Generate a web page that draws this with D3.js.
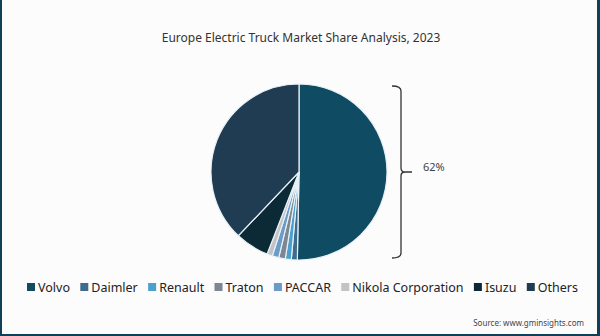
<!DOCTYPE html>
<html>
<head>
<meta charset="utf-8">
<script src="https://cdn.jsdelivr.net/npm/d3@7"></script>
<style>
  body { margin: 0; background: #fff; }
  svg { display: block; font-family: "Noto Sans", "Open Sans", sans-serif; }
</style>
</head>
<body>
<div id="chart"></div>
<script>
/* ===== Data ===== */
const companies = ["Volvo", "Daimler", "Renault", "Traton", "PACCAR", "Nikola Corporation", "Isuzu", "Others"];
const shares = [50.3, 1.1, 1.1, 1.2, 1.2, 1.0, 6.2, 37.9];
const colors = ["#0f4c64", "#3d6d8e", "#4aa0cf", "#7d8791", "#6b9bc9", "#c3c3c3", "#0b2a36", "#1f3c53"];
const calloutLabel = "62%";
const title = "Europe Electric Truck Market Share Analysis, 2023";
const source = "Source: www.gminsights.com";

/* ===== Constants ===== */
const width = 600, height = 336;
const center = {x: 299, y: 172};
const radius = 88;

const svg = d3.select("#chart").append("svg")
              .attr("width", width)
              .attr("height", height);

// background and dark frame
svg.append("rect").attr("width", width).attr("height", height).attr("fill", "#fcfcfc");
svg.append("rect").attr("x", 0).attr("y", 0).attr("width", 2).attr("height", height).attr("fill", "#123f57");
svg.append("rect").attr("x", width - 3).attr("y", 0).attr("width", 3).attr("height", height).attr("fill", "#123f57");
svg.append("rect").attr("x", 0).attr("y", height - 2).attr("width", width).attr("height", 2).attr("fill", "#123f57");

svg.append("text")
   .attr("x", 301)
   .attr("y", 42)
   .attr("text-anchor", "middle")
   .attr("font-size", 12)
   .attr("fill", "#333")
   .text(title);

const data = companies.map((c, i) => ({name: c, value: shares[i], color: colors[i]}));

const pie = d3.pie().value(d => d.value).sort(null);
const arc = d3.arc().innerRadius(0).outerRadius(radius);

svg.append("g")
   .attr("transform", `translate(${center.x},${center.y})`)
   .selectAll("path")
   .data(pie(data))
   .join("path")
   .attr("d", arc)
   .attr("fill", d => d.data.color)
   .attr("stroke", "#e8f1f6")
   .attr("stroke-width", 1.2);

// curly bracket on the right side of the pie
const bx = 401, bTop = center.y - 86, bBot = center.y + 86, bMid = center.y;
const bracket = d3.path();
bracket.moveTo(bx - 9, bTop);
bracket.quadraticCurveTo(bx, bTop, bx, bTop + 5);
bracket.lineTo(bx, bMid - 4);
bracket.quadraticCurveTo(bx, bMid, bx + 4, bMid);
bracket.lineTo(bx + 11, bMid);
bracket.moveTo(bx + 4, bMid);
bracket.quadraticCurveTo(bx, bMid, bx, bMid + 4);
bracket.lineTo(bx, bBot - 5);
bracket.quadraticCurveTo(bx, bBot, bx - 9, bBot);
svg.append("path")
   .attr("d", bracket.toString())
   .attr("fill", "none")
   .attr("stroke", "#333")
   .attr("stroke-width", 1.3);

svg.append("text")
   .attr("x", 423)
   .attr("y", bMid - 1)
   .attr("font-size", 11)
   .attr("fill", "#444")
   .text(calloutLabel);

// legend, one row spread between the two edges
const legend = svg.append("g").attr("transform", "translate(0,287)");
const items = legend.selectAll("g").data(data).join("g");
items.append("rect")
     .attr("y", -4)
     .attr("width", 8)
     .attr("height", 8)
     .attr("fill", d => d.color);
items.append("text")
     .attr("x", 11)
     .attr("dy", "0.36em")
     .attr("font-size", 12.5)
     .attr("fill", "#222")
     .text(d => d.name);

const widths = [];
items.each(function () { widths.push(11 + d3.select(this).select("text").node().getComputedTextLength()); });
const legendLeft = 27, legendRight = 578;
const gap = (legendRight - legendLeft - d3.sum(widths)) / (widths.length - 1);
let cx = legendLeft;
items.attr("transform", (d, i) => {
    const x = cx;
    cx += widths[i] + gap;
    return `translate(${x},0)`;
});

svg.append("text")
   .attr("x", 584)
   .attr("y", 326)
   .attr("text-anchor", "end")
   .attr("font-size", 8)
   .attr("fill", "#444")
   .text(source);
</script>
</body>
</html>
